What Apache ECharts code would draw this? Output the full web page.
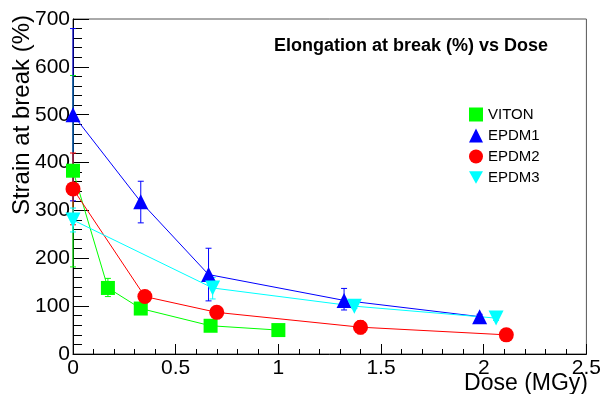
<!DOCTYPE html>
<html>
<head>
<meta charset="utf-8">
<script src="https://cdn.jsdelivr.net/npm/echarts@6/dist/echarts.min.js"></script>
<style>
  html, body { margin: 0; padding: 0; background: #fff; }
  #chart { width: 604px; height: 394px; }
</style>
</head>
<body>
<div id="chart"></div>
<script>
// values (dose in MGy, strain in %)
const vitonDose = [0, 0.17, 0.33, 0.67, 1.0];
const vitonVal = [383, 138, 95, 59, 50];
const vitonLow = [182, 120, 89, 54, 45];
const vitonHigh = [582, 158, 101, 64, 55];

const epdm1Dose = [0, 0.33, 0.66, 1.32, 1.98];
const epdm1Val = [500, 318, 166, 112, 78];
const epdm1Low = [320, 274, 111, 92, 73];
const epdm1High = [680, 361, 221, 137, 83];

const epdm2Dose = [0, 0.35, 0.70, 1.40, 2.11];
const epdm2Val = [345, 120, 87, 56, 40];
const epdm2Low = [270, 113, 82, 42, 35];
const epdm2High = [420, 127, 92, 70, 45];

const epdm3Dose = [0, 0.68, 1.37, 2.06];
const epdm3Val = [280, 138, 100, 75];
const epdm3Low = [255, 115, 95, 70];
const epdm3High = [305, 160, 105, 80];

const downTri = 'path://M0,0L10,0L5,9Z';
const font = 'Liberation Sans, Arial, sans-serif';

const pts = (xs, ys) => xs.map((x, i) => [x, ys[i]]);
const errs = (xs, lo, hi) => xs.map((x, i) => [x, lo[i], hi[i]]);

// vertical error bar with small caps
function errorBar(color) {
  return function (params, api) {
    const top = api.coord([api.value(0), api.value(2)]);
    const bot = api.coord([api.value(0), api.value(1)]);
    const w = 3;
    const st = { stroke: color, lineWidth: 1 };
    return {
      type: 'group',
      children: [
        { type: 'line', shape: { x1: top[0], y1: top[1], x2: bot[0], y2: bot[1] }, style: st },
        { type: 'line', shape: { x1: top[0] - w, y1: top[1], x2: top[0] + w, y2: top[1] }, style: st },
        { type: 'line', shape: { x1: bot[0] - w, y1: bot[1], x2: bot[0] + w, y2: bot[1] }, style: st }
      ]
    };
  };
}

function lineSeries(name, data, color, symbol, size) {
  return {
    name: name,
    type: 'line',
    data: data,
    symbol: symbol,
    symbolSize: size,
    showAllSymbol: true,
    itemStyle: { color: color },
    lineStyle: { color: color, width: 1 },
    emphasis: { disabled: true },
    z: 3
  };
}

function barSeries(name, data, color) {
  return {
    name: name + ' err',
    type: 'custom',
    data: data,
    renderItem: errorBar(color),
    encode: { x: 0, y: [1, 2] },
    silent: true,
    z: 2
  };
}

const chart = echarts.init(document.getElementById('chart'));
chart.setOption({
  animation: false,
  backgroundColor: '#fff',
  grid: {
    left: 73, top: 19, right: 17, bottom: 40,
    show: true, borderColor: '#555', borderWidth: 1
  },
  graphic: [
    {
      type: 'text', left: 274, top: 37,
      style: { text: 'Elongation at break (%) vs Dose', font: 'bold 18px ' + font, fill: '#000' }
    },
    {
      type: 'text', x: 22, y: 15, rotation: Math.PI / 2,
      style: { text: 'Strain at break (%)', font: '24px ' + font, fill: '#000', align: 'right', verticalAlign: 'middle' }
    },
    {
      type: 'text', x: 588, y: 372,
      style: { text: 'Dose (MGy)', font: '23px ' + font, fill: '#000', align: 'right', verticalAlign: 'top' }
    }
  ],
  legend: {
    orient: 'vertical',
    left: 464, top: 102,
    itemGap: 6,
    itemWidth: 14, itemHeight: 14,
    textStyle: { fontFamily: font, fontSize: 15, color: '#000' },
    data: [
      { name: 'VITON', icon: 'rect' },
      { name: 'EPDM1', icon: 'triangle' },
      { name: 'EPDM2', icon: 'circle' },
      { name: 'EPDM3', icon: downTri }
    ]
  },
  xAxis: {
    type: 'value',
    min: 0, max: 2.5, interval: 0.5,
    axisLine: { show: true, lineStyle: { color: '#000' } },
    axisTick: { show: true, inside: true, length: 10, lineStyle: { color: '#000' } },
    minorTick: { show: true, splitNumber: 5, length: 5, lineStyle: { color: '#000' } },
    splitLine: { show: false },
    axisLabel: { fontFamily: font, fontSize: 21, color: '#000', margin: 4 }
  },
  yAxis: {
    type: 'value',
    min: 0, max: 700, interval: 100,
    axisLine: { show: true, lineStyle: { color: '#000' } },
    axisTick: { show: true, inside: true, length: 16, lineStyle: { color: '#000' } },
    minorTick: { show: true, splitNumber: 5, length: 9, lineStyle: { color: '#000' } },
    splitLine: { show: false },
    axisLabel: { fontFamily: font, fontSize: 21, color: '#000', margin: 3 }
  },
  series: [
    barSeries('VITON', errs(vitonDose, vitonLow, vitonHigh), '#00ff00'),
    barSeries('EPDM1', errs(epdm1Dose, epdm1Low, epdm1High), '#0000ff'),
    barSeries('EPDM2', errs(epdm2Dose, epdm2Low, epdm2High), '#ff0000'),
    barSeries('EPDM3', errs(epdm3Dose, epdm3Low, epdm3High), '#00ffff'),
    lineSeries('VITON', pts(vitonDose, vitonVal), '#00ff00', 'rect', 14),
    lineSeries('EPDM1', pts(epdm1Dose, epdm1Val), '#0000ff', 'triangle', 15),
    lineSeries('EPDM2', pts(epdm2Dose, epdm2Val), '#ff0000', 'circle', 15),
    lineSeries('EPDM3', pts(epdm3Dose, epdm3Val), '#00ffff', downTri, 15)
  ]
});
</script>
</body>
</html>
